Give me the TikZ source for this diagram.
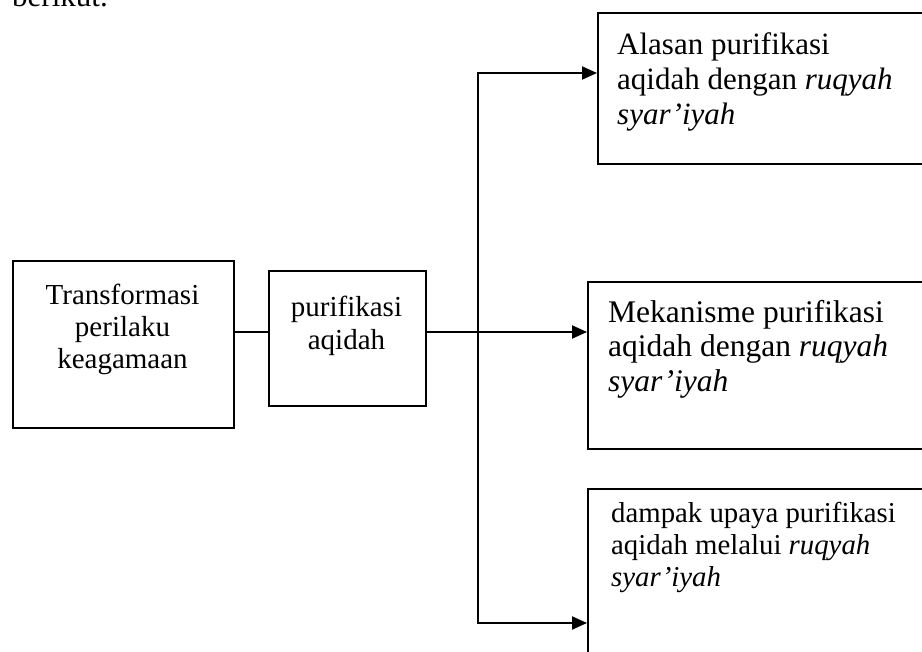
\documentclass[tikz,border=0pt]{standalone}
\usepackage{fontspec}
\setmainfont{Liberation Serif}
\usetikzlibrary{arrows.meta}
\tikzset{
  kotak/.style={draw, line width=2pt, inner sep=0pt, anchor=north west},
  teks/.style={inner sep=0pt, anchor=base west, align=left},
  tengah/.style={inner sep=0pt, anchor=base, align=center},
  garis/.style={line width=2pt}
}
\begin{document}
\begin{tikzpicture}[x=1pt,y=-1pt]
    \useasboundingbox (0,0) rectangle (922,652);
    \clip (0,0) rectangle (922,652);
    \node[teks, font=\fontsize{31}{35}\selectfont] (berikut) at (12,7) {berikut.};
    % kotak kiri
    \node[kotak, minimum width=221pt, minimum height=167pt] (trans) at (12,260) {};
    \node[kotak, minimum width=157pt, minimum height=135pt] (puri) at (268,270) {};
    \node[tengah, font=\fontsize{29}{32}\selectfont] (transT) at (122.5,369) {Transformasi\\perilaku\\keagamaan};
    \node[tengah, font=\fontsize{29}{33}\selectfont] (puriT) at (346.5,350) {purifikasi\\aqidah};
    % kotak kanan
    \node[kotak, minimum width=343pt, minimum height=151pt] (alasan) at (597,12) {};
    \node[kotak, minimum width=353pt, minimum height=167pt] (mek) at (587,281) {};
    \node[kotak, minimum width=353pt, minimum height=200pt] (dampak) at (587,488) {};
    \node[teks, font=\fontsize{31}{35}\selectfont] (alasanT) at (617,125) {Alasan purifikasi\\aqidah dengan \textit{ruqyah}\\\textit{syar’iyah}};
    \node[teks, font=\fontsize{31.5}{35}\selectfont] (mekT) at (608,392) {Mekanisme purifikasi\\aqidah dengan \textit{ruqyah}\\\textit{syar’iyah}};
    \node[teks, font=\fontsize{28.8}{32}\selectfont] (dampakT) at (611,586) {dampak upaya purifikasi\\aqidah melalui \textit{ruqyah}\\\textit{syar’iyah}};
    % garis
    \coordinate (cabang) at (478,332);
    \coordinate (atas) at (478,73);
    \coordinate (bawah) at (478,623);
    \draw[garis] (trans.east |- cabang) -- (puri.west |- cabang);
    \draw[garis, -{Triangle[length=15pt,width=13pt]}] (puri.east |- cabang) -- (mek.west |- cabang);
    \draw[garis, {Triangle[length=15pt,width=13pt]}-{Triangle[length=15pt,width=13pt]}] (atas -| alasan.west) -- (atas) -- (bawah) -- (bawah -| dampak.west);
\end{tikzpicture}
\end{document}
